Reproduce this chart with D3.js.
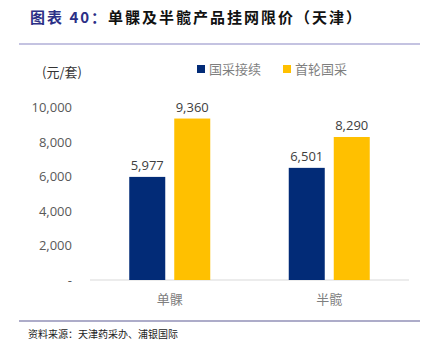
<!DOCTYPE html>
<html><head><meta charset="utf-8">
<script src="https://cdn.jsdelivr.net/npm/d3@7"></script>
<style>body{margin:0;background:#fff}svg{display:block}</style>
</head><body>
<script>
const categories = ["单髁", "半髋"];
const seriesNames = ["国采接续", "首轮国采"];
const continuation = [5977, 6501];
const firstRound = [9360, 8290];
const yTicks = [0, 2000, 4000, 6000, 8000, 10000];
const colors = ["#022b77", "#ffc000"];

const W = 431, H = 356;
const svg = d3.select("body").append("svg").attr("width", W).attr("height", H);
const num = "'Open Sans','Noto Sans',sans-serif";
const cjk = "'Noto Sans CJK SC',sans-serif";

// title
const t = svg.append("text").attr("x", 30).attr("y", 23).attr("font-family", cjk).attr("font-size", 15).attr("font-weight", "bold").attr("letter-spacing", 2);
t.append("tspan").attr("fill", "#2b2f86").text("图表 40：");
t.append("tspan").attr("fill", "#111").text("单髁及半髋产品挂网限价（天津）");
svg.append("line").attr("x1", 19).attr("x2", 420).attr("y1", 44).attr("y2", 44).attr("stroke", "#8a87c4").attr("stroke-width", 1.2);
svg.append("line").attr("x1", 19).attr("x2", 420).attr("y1", 321).attr("y2", 321).attr("stroke", "#5d5a94").attr("stroke-width", 1.2);
svg.append("text").attr("x", 28).attr("y", 338).attr("font-family", cjk).attr("font-size", 10).attr("fill", "#222").text("资料来源：天津药采办、浦银国际");

const y = d3.scaleLinear().domain([0, 10000]).range([280, 107.5]);
const x0 = d3.scaleBand().domain(categories).range([90, 409]);
const x1 = d3.scaleBand().domain(seriesNames).range([0, 81]).paddingInner(0.2);
const off = (x0.bandwidth() - 81) / 2;

// y axis
const yAxis = d3.axisLeft(y).tickValues(yTicks).tickSize(0).tickPadding(0)
  .tickFormat(d => d === 0 ? "-" : d3.format(",")(d));
const ga = svg.append("g").attr("transform", "translate(72,0)").call(yAxis);
ga.select(".domain").remove();
ga.selectAll("text").attr("font-family", num).attr("font-size", 13).attr("fill", "#595959");

svg.append("text").attr("x", 42).attr("y", 77).attr("font-family", cjk).attr("font-size", 13).attr("fill", "#333").text("(元/套)");

// baseline
svg.append("line").attr("x1", 90).attr("x2", 409).attr("y1", y(0)).attr("y2", y(0)).attr("stroke", "#d9d9d9").attr("stroke-width", 1);

const data = categories.map((c, i) => ({c, vals: [continuation[i], firstRound[i]]}));
const g = svg.selectAll("g.cat").data(data).join("g").attr("transform", d => `translate(${x0(d.c) + off},0)`);
g.selectAll("rect").data(d => d.vals.map((v, j) => ({v, s: seriesNames[j], j}))).join("rect")
  .attr("x", d => x1(d.s)).attr("width", x1.bandwidth())
  .attr("y", d => y(d.v)).attr("height", d => y(0) - y(d.v)).attr("fill", d => colors[d.j]);
g.selectAll("text.lbl").data(d => d.vals.map((v, j) => ({v, s: seriesNames[j]}))).join("text")
  .attr("class", "lbl").attr("x", d => x1(d.s) + x1.bandwidth() / 2).attr("y", d => y(d.v) - 7)
  .attr("text-anchor", "middle").attr("font-family", num).attr("font-size", 13).attr("fill", "#404040")
  .text(d => d3.format(",")(d.v));

// x axis labels
const xAxis = d3.axisBottom(x0).tickSize(0).tickPadding(15);
const gx = svg.append("g").attr("transform", `translate(0,${y(0)})`).call(xAxis);
gx.select(".domain").remove();
gx.selectAll("text").attr("font-family", cjk).attr("font-size", 13).attr("fill", "#7f7f7f");

// legend
const lg = svg.append("g");
const lx = [197, 283];
seriesNames.forEach((s, i) => {
  lg.append("rect").attr("x", lx[i]).attr("y", 65).attr("width", 8).attr("height", 8).attr("fill", colors[i]);
  lg.append("text").attr("x", lx[i] + 12).attr("y", 74).attr("font-family", cjk).attr("font-size", 13).attr("fill", "#7f7f7f").text(s);
});
</script>
</body></html>
